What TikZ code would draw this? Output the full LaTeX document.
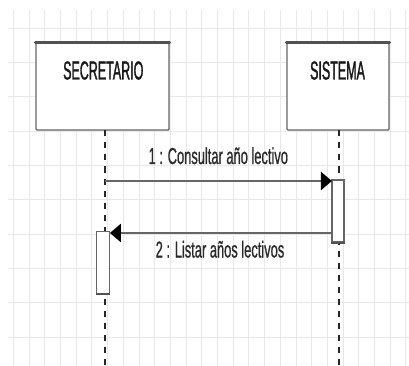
\documentclass[tikz,border=0pt]{standalone}
\usepackage{fontspec}
\usetikzlibrary{arrows.meta}
\setmainfont{Liberation Sans}
\newfontfamily\boxfont[FakeStretch=0.48,FakeBold=1.2]{Liberation Sans}
\newfontfamily\msgfont[FakeStretch=0.56,FakeBold=0.7]{Liberation Sans}
\definecolor{gridc}{HTML}{E8E8E8}
\definecolor{edge}{HTML}{666666}
\definecolor{txt}{HTML}{2A2A2A}
\tikzset{
  objbox/.style={draw=edge, line width=1.4pt, fill=white, inner sep=0pt, rounded corners=1pt},
  actbox/.style={draw=edge, line width=1.2pt, fill=white, inner sep=0pt},
  lifeline/.style={draw=black!85, line width=1.1pt, dash pattern=on 6pt off 6pt},
  msg/.style={draw=edge, line width=2.6pt, -{Triangle[length=11pt,width=18pt,color=black]}, shorten >=-0.5pt},
  boxlabel/.style={anchor=base, inner sep=0pt, text=black!90, font=\boxfont\fontsize{26}{30}\selectfont},
  msglabel/.style={anchor=base, inner sep=0pt, text=txt, font=\msgfont\fontsize{23}{26}\selectfont},
}
\begin{document}
\begin{tikzpicture}[x=1pt,y=-1pt]
\useasboundingbox (0,0) rectangle (409,366);
\fill[white] (0,0) rectangle (409,366);
% grid
\foreach \i in {0,...,25} {
  \draw[gridc, line width=0.8pt] ({13.3+15.7*\i},10) -- ({13.3+15.7*\i},366);
}
\foreach \j in {0,...,9} {
  \draw[gridc, line width=0.8pt] (8,{28.3+34.3*\j}) -- (409,{28.3+34.3*\j});
}
% object boxes
\fill[black!7] (38,46) rectangle (171,131);
\fill[black!7] (289,46) rectangle (391,131);
\node[objbox, minimum width=133pt, minimum height=87pt] (sec) at (102.5,86.5) {};
\node[objbox, minimum width=102pt, minimum height=87pt] (sis) at (338,86.5) {};
\draw[edge!80!black, line width=2.6pt, line cap=round] (sec.north west) -- (sec.north east);
\draw[edge!80!black, line width=2.6pt, line cap=round] (sis.north west) -- (sis.north east);
\node[boxlabel] (sectext) at (103.3,79.5) {SECRETARIO};
\node[boxlabel] (sistext) at (337.5,79.5) {SISTEMA};
% lifelines
\coordinate (secbot) at (105,366);
\coordinate (sisbot) at (339,366);
\draw[lifeline] (105,130.5) -- (secbot);
\draw[lifeline] (339,130.5) -- (sisbot);
% activations
\node[actbox, minimum width=12pt, minimum height=62pt] (act2) at (338,211) {};
\draw[edge!80!black, line width=2pt] (act2.south west) -- (act2.south east);
\node[actbox, minimum width=13pt, minimum height=62pt] (act1) at (103.3,262.5) {};
\draw[edge!80!black, line width=2pt] (act1.south west) -- (act1.south east);
% messages
\coordinate (m1s) at (105,181);
\draw[msg] (m1s) -- (act2.west |- m1s);
\node[msglabel] (m1text) at (218.3,164) {1 : Consultar año lectivo};
\coordinate (m2s) at (332,233);
\draw[msg] (act2.west |- m2s) -- (act1.east |- m2s);
\node[msglabel] (m2text) at (220,257.5) {2 : Listar años lectivos};
\end{tikzpicture}
\end{document}
